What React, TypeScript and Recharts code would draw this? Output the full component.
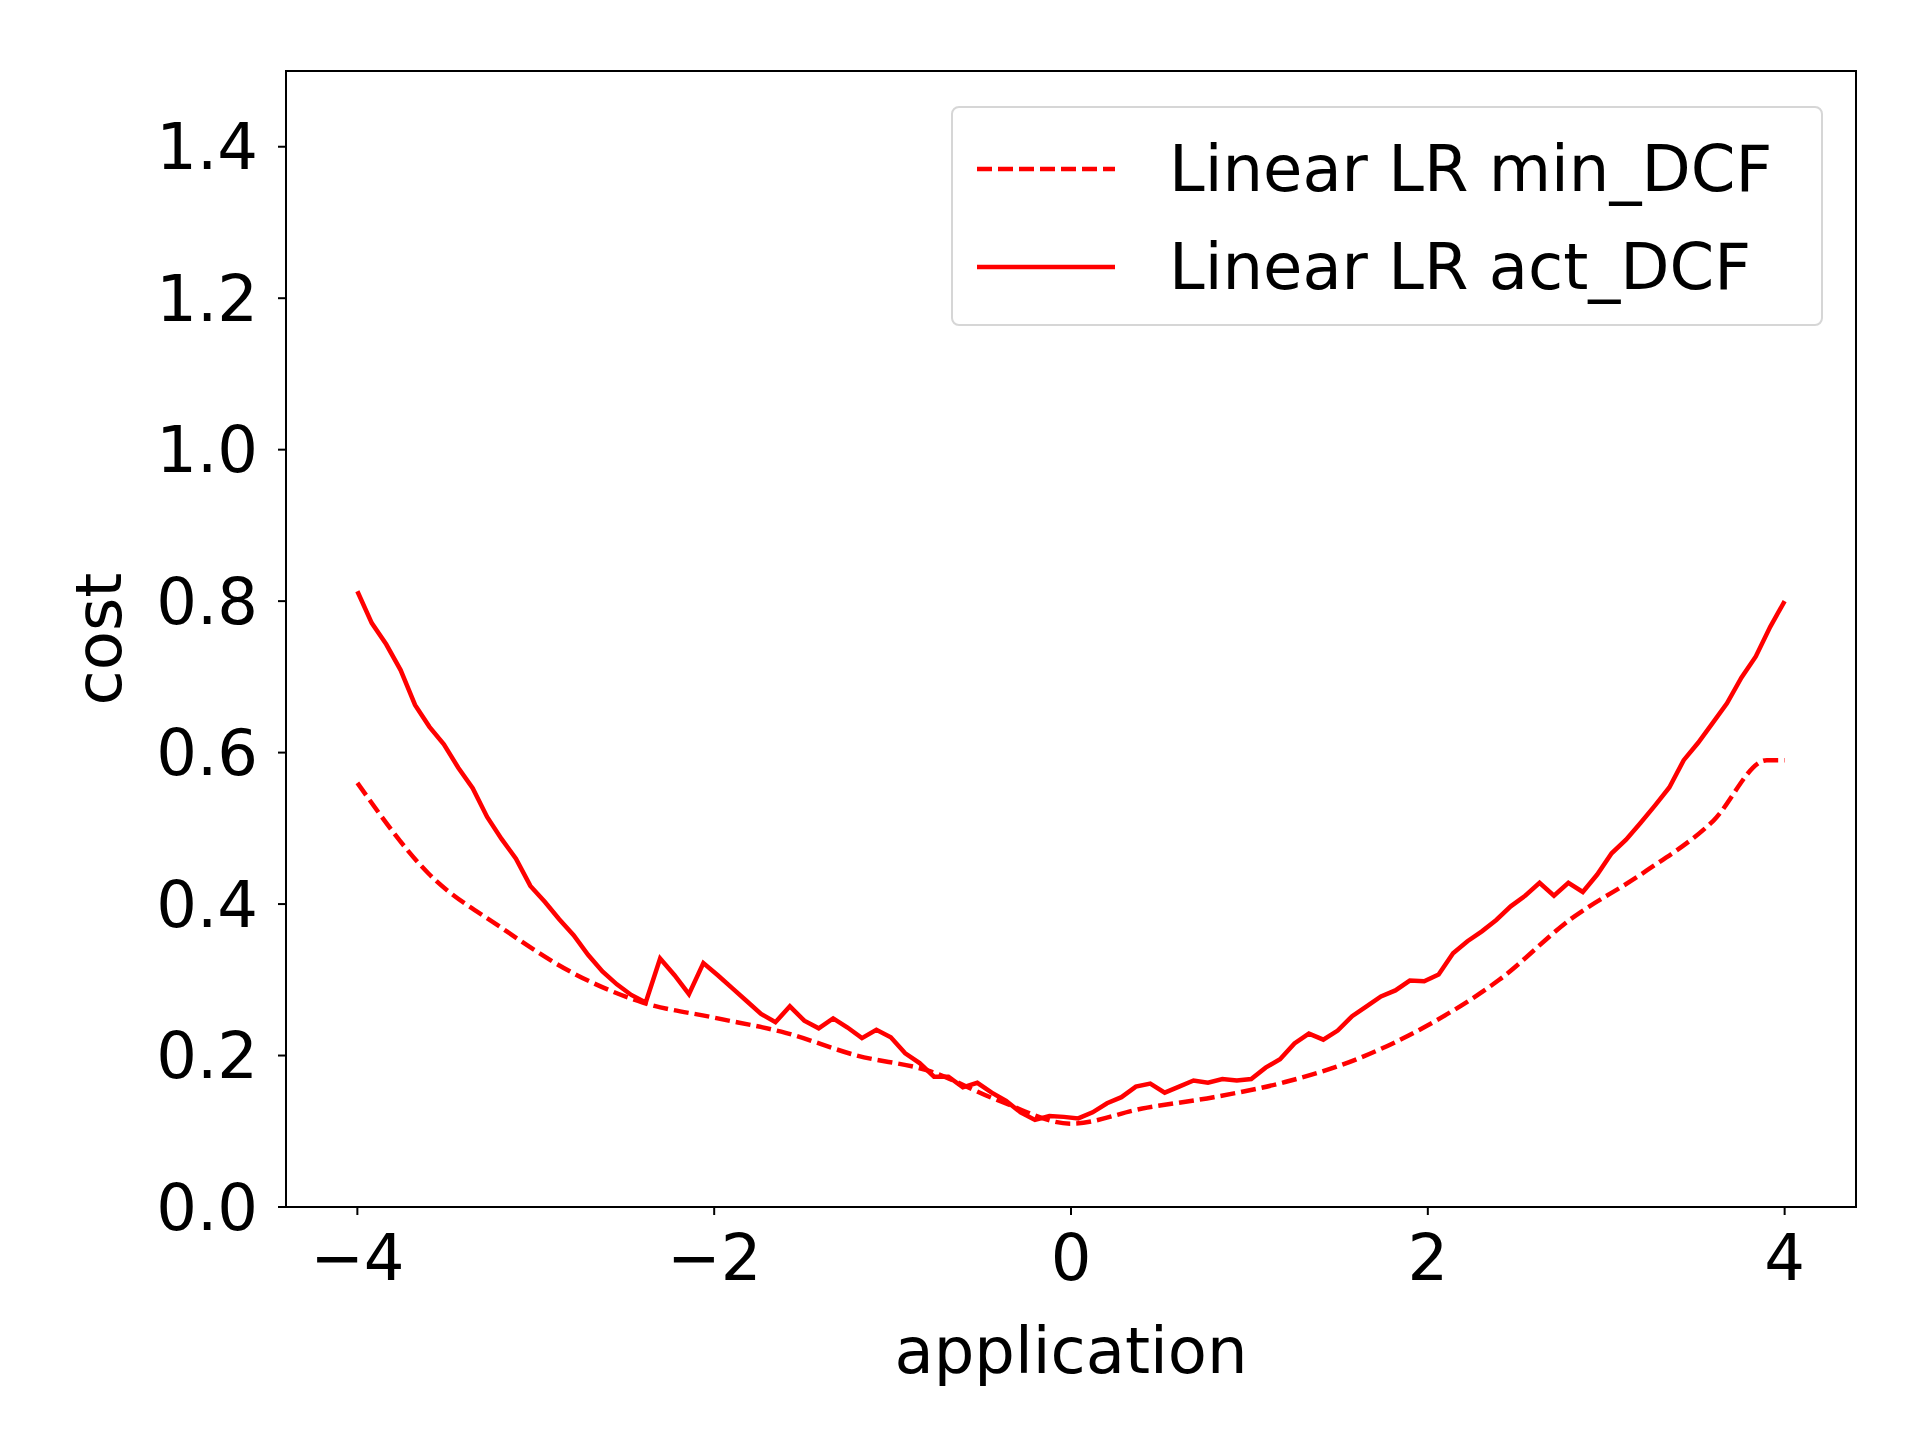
import React from "react";
import {
  ComposedChart,
  Line,
  XAxis,
  YAxis,
  ReferenceArea,
  Label,
} from "recharts";

// act_DCF sampled at 100 evenly spaced applications in [-4, 4]
const actDCF = [
  0.813, 0.771, 0.743, 0.709, 0.663, 0.634, 0.611, 0.58, 0.553, 0.515,
  0.486, 0.46, 0.424, 0.403, 0.38, 0.359, 0.333, 0.311, 0.294, 0.28,
  0.27, 0.328, 0.306, 0.281, 0.322, 0.306, 0.289, 0.272, 0.255, 0.244,
  0.265, 0.246, 0.236, 0.249, 0.237, 0.223, 0.234, 0.224, 0.203, 0.19,
  0.172, 0.172, 0.158, 0.164, 0.151, 0.14, 0.125, 0.115, 0.12, 0.119,
  0.117, 0.125, 0.137, 0.145, 0.159, 0.163, 0.151, 0.159, 0.167, 0.164,
  0.169, 0.167, 0.169, 0.184, 0.195, 0.216, 0.229, 0.221, 0.233, 0.252,
  0.265, 0.278, 0.286, 0.299, 0.298, 0.307, 0.335, 0.351, 0.364, 0.379,
  0.397, 0.411, 0.428, 0.411, 0.428, 0.416, 0.439, 0.467, 0.485, 0.507,
  0.53, 0.554, 0.59, 0.613, 0.639, 0.665, 0.699, 0.727, 0.766, 0.8,
];

const minX = [
  -4, -3.6, -3.2, -2.8, -2.4, -2, -1.6, -1.2, -0.8, -0.4, 0, 0.4, 0.8, 1.2,
  1.6, 2, 2.4, 2.8, 3.2, 3.6, 3.9, 4,
];
const minDCF = [
  0.56, 0.44, 0.37, 0.31, 0.27, 0.25, 0.23, 0.2, 0.18, 0.14, 0.11, 0.13,
  0.145, 0.165, 0.195, 0.24, 0.3, 0.38, 0.44, 0.51, 0.59, 0.59,
];

const xTicks = [-4, -2, 0, 2, 4];
const yTicks = [0, 0.2, 0.4, 0.6, 0.8, 1.0, 1.2, 1.4];

const actData = actDCF.map((v, i) => ({ x: -4 + (8 * i) / (actDCF.length - 1), act: v }));
const minData = minX.map((x, i) => ({ x, min: minDCF[i] }));

const FONT = "DejaVu Sans, sans-serif";
const fmt = (v: number) => String(v).replace("-", "\u2212");

function LegendBox() {
  const row = (dashed: boolean, text: string) => (
    <div style={{ display: "flex", alignItems: "center", height: 98 }}>
      <svg width={140} height={10} style={{ marginLeft: 24, marginRight: 52 }}>
        <line
          x1={0}
          y1={5}
          x2={138}
          y2={5}
          stroke="#ff0000"
          strokeWidth={4.5}
          strokeDasharray={dashed ? "15 6" : undefined}
        />
      </svg>
      <span style={{ fontSize: 64, color: "#000", whiteSpace: "nowrap" }}>{text}</span>
    </div>
  );
  return (
    <div
      style={{
        position: "absolute",
        left: 951,
        top: 106,
        width: 872,
        height: 220,
        border: "2px solid #d6d6d6",
        borderRadius: 8,
        background: "#fff",
        boxSizing: "border-box",
        paddingTop: 12,
        fontFamily: FONT,
      }}
    >
      {row(true, "Linear LR min_DCF")}
      {row(false, "Linear LR act_DCF")}
    </div>
  );
}

export default function App() {
  return (
    <div style={{ position: "absolute", left: 0, top: 0, width: 1920, height: 1440, background: "#fff" }}>
      <ComposedChart
        width={1920}
        height={1440}
        margin={{ top: 71, right: 64, bottom: 53, left: 60 }}
      >
        <XAxis
          dataKey="x"
          type="number"
          domain={[-4.4, 4.4]}
          ticks={xTicks}
          tickFormatter={fmt}
          allowDuplicatedCategory={false}
          height={180}
          tickSize={8}
          tickMargin={20}
          stroke="#000"
          strokeWidth={2}
          tick={{ fontSize: 64, fill: "#000", fontFamily: FONT }}
        >
          <Label
            value="application"
            position="insideBottom"
            offset={14}
            style={{ fontSize: 64, fill: "#000", fontFamily: FONT }}
          />
        </XAxis>
        <YAxis
          type="number"
          domain={[0, 1.5]}
          ticks={yTicks}
          tickFormatter={(v: number) => v.toFixed(1)}
          width={226}
          tickSize={8}
          tickMargin={20}
          stroke="#000"
          strokeWidth={2}
          tick={{ fontSize: 64, fill: "#000", fontFamily: FONT }}
        >
          <Label
            value="cost"
            angle={-90}
            position="insideLeft"
            offset={38}
            style={{ fontSize: 64, fill: "#000", fontFamily: FONT, textAnchor: "middle" }}
          />
        </YAxis>
        <ReferenceArea
          x1={-4.4}
          x2={4.4}
          y1={0}
          y2={1.5}
          fill="none"
          stroke="#000"
          strokeWidth={2}
          ifOverflow="visible"
        />
        <Line
          data={minData}
          dataKey="min"
          type="monotone"
          stroke="#ff0000"
          strokeWidth={4.5}
          strokeDasharray="15 6"
          dot={false}
          isAnimationActive={false}
        />
        <Line
          data={actData}
          dataKey="act"
          type="linear"
          stroke="#ff0000"
          strokeWidth={4.5}
          dot={false}
          isAnimationActive={false}
        />
      </ComposedChart>
      <LegendBox />
    </div>
  );
}
